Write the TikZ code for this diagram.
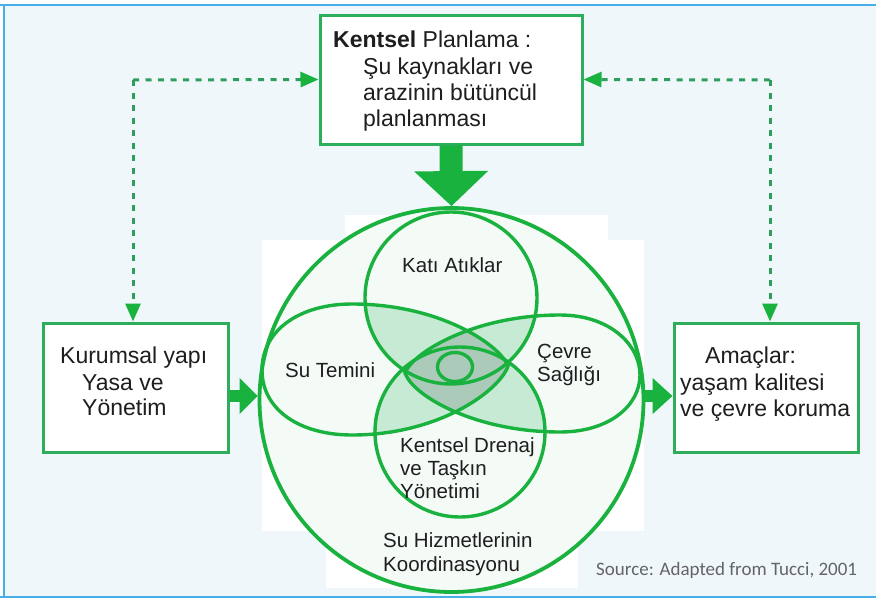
\documentclass[tikz,border=0pt]{standalone}
\usepackage{fontspec}
\setmainfont{Liberation Sans}
\newfontfamily\srcfont{Carlito}
\usetikzlibrary{arrows.meta}

\definecolor{bgblue}{RGB}{239,247,251}
\definecolor{frameblue}{RGB}{70,175,232}
\definecolor{vgreen}{RGB}{26,178,62}
\definecolor{boxgreen}{RGB}{46,174,90}
\definecolor{dashgreen}{RGB}{46,158,92}
\definecolor{paleg}{RGB}{244,251,247}
\definecolor{lightg}{RGB}{198,234,211}
\definecolor{darkg}{RGB}{172,202,186}
\definecolor{txt}{RGB}{30,30,30}
\definecolor{srcgray}{RGB}{100,100,100}

% petal-shaped loops of the flower
\def\leftpetal{(262,370) .. controls (262,330) and (300,304) .. (352,304)
  .. controls (440,304) and (500,345) .. (508,366)
  .. controls (500,390) and (440,435) .. (352,435)
  .. controls (300,435) and (262,410) .. (262,370) -- cycle}
\def\rightpetal{(405,373) .. controls (413,352) and (475,315) .. (560,315)
  .. controls (610,315) and (640,345) .. (640,375)
  .. controls (640,405) and (610,432) .. (560,432)
  .. controls (475,432) and (413,396) .. (405,373) -- cycle}
\def\toploop{(451,298) circle[radius=86]}
\def\botloop{(460,432) circle[radius=85]}

\begin{document}
\begin{tikzpicture}[x=1pt,y=-1pt,
  box/.style={draw=boxgreen, line width=3pt, fill=white, inner sep=0pt},
  lbl/.style={anchor=base west, inner sep=0pt, text=txt, font=\fontsize{23}{26}\selectfont},
  clbl/.style={anchor=base west, inner sep=0pt, text=txt, font=\fontsize{20.5}{24}\selectfont},
  dashln/.style={draw=dashgreen, line width=3pt, dash pattern=on 6pt off 6.5pt},
  vtip/.style={-{Triangle[width=15pt,length=18pt,color=vgreen]}},
  ring/.style={draw=vgreen, line width=3.4pt}]

\useasboundingbox (0,0) rectangle (876,600);
\fill[white] (0,0) rectangle (876,600);
\fill[bgblue] (5,6) rectangle (876,596);
\draw[frameblue, line width=2pt] (0,5) -- (876,5);
\draw[frameblue, line width=2pt] (0,597) -- (876,597);
\draw[frameblue, line width=2pt] (4,5) -- (4,597);

% white panels behind the flower
\fill[white] (345,215) rectangle (608,241);
\fill[white] (262,240) rectangle (644,531);
\fill[white] (326,530) rectangle (578,588);

% boxes
\node[box, minimum width=262pt, minimum height=129pt] (top) at (451,79.5) {};
\node[box, minimum width=185pt, minimum height=129pt] (lbox) at (135.5,387.5) {};
\node[box, minimum width=184pt, minimum height=129pt] (rbox) at (766,387.5) {};

% outer ring
\node[circle, draw=vgreen, line width=3.8pt, fill=paleg, minimum size=384pt, inner sep=0pt] (bigc) at (451.5,400) {};

% overlaps
\begin{scope}
  \clip \toploop;
  \fill[lightg] \leftpetal;
  \fill[lightg] \rightpetal;
\end{scope}
\begin{scope}
  \clip \botloop;
  \fill[lightg] \leftpetal;
  \fill[lightg] \rightpetal;
\end{scope}
\begin{scope}
  \clip \leftpetal;
  \fill[darkg] \rightpetal;
\end{scope}
\fill[darkg] (455,367) ellipse[x radius=17.5, y radius=14.5];

% outlines
\draw[ring] \toploop;
\draw[ring] \botloop;
\draw[ring] \leftpetal;
\draw[ring] \rightpetal;
\draw[ring] (455,367) ellipse[x radius=17.5, y radius=14.5];

% dashed feedback links
\coordinate (cl) at (133,80);
\coordinate (cr) at (770,80);
\draw[dashln, vtip] (cl) -- (top.west);
\draw[dashln, vtip] (cl) -- (cl |- lbox.north);
\draw[dashln, vtip] (cr) -- (top.east);
\draw[dashln, vtip] (cr) -- (cr |- rbox.north);

% solid arrows
\draw[vgreen, line width=23pt, -{Triangle[width=72pt,length=35pt]}] (top.south) -- (bigc.north);
\draw[vgreen, line width=12pt, -{Triangle[width=35pt,length=18pt]}] (lbox.east |- 0,396) -- (bigc.west |- 0,396);
\draw[vgreen, line width=12pt, -{Triangle[width=35pt,length=20pt]}] (bigc.east |- 0,396) -- (rbox.west |- 0,396);

% box texts
\node[lbl] (t1) at (333,47) {\textbf{Kentsel} Planlama :};
\node[lbl] (t2) at (363,74) {Şu kaynakları ve};
\node[lbl] (t3) at (363,100) {arazinin bütüncül};
\node[lbl] (t4) at (363,126) {planlanması};

\node[lbl] (l1) at (60,363) {Kurumsal yapı};
\node[lbl] (l2) at (82,390) {Yasa ve};
\node[lbl] (l3) at (82,415) {Yönetim};

\node[lbl] (r1) at (705,363) {Amaçlar:};
\node[lbl] (r2) at (680,390) {yaşam kalitesi};
\node[lbl] (r3) at (680,416) {ve çevre koruma};

% flower texts
\node[clbl] (c1) at (402,272) {Katı Atıklar};
\node[clbl] (c2) at (285,377) {Su Temini};
\node[clbl] (c3) at (537,358) {Çevre};
\node[clbl] (c4) at (537,381) {Sağlığı};
\node[clbl] (c5) at (400,452) {Kentsel Drenaj};
\node[clbl] (c6) at (400,475) {ve Taşkın};
\node[clbl] (c7) at (400,498) {Yönetimi};
\node[clbl] (c8) at (383,547) {Su Hizmetlerinin};
\node[clbl] (c9) at (383,571) {Koordinasyonu};

\node[anchor=base west, inner sep=0pt, text=srcgray, font=\srcfont\fontsize{19}{22}\selectfont] (src) at (596,575) {Source: Adapted from Tucci, 2001};
\end{tikzpicture}
\end{document}
